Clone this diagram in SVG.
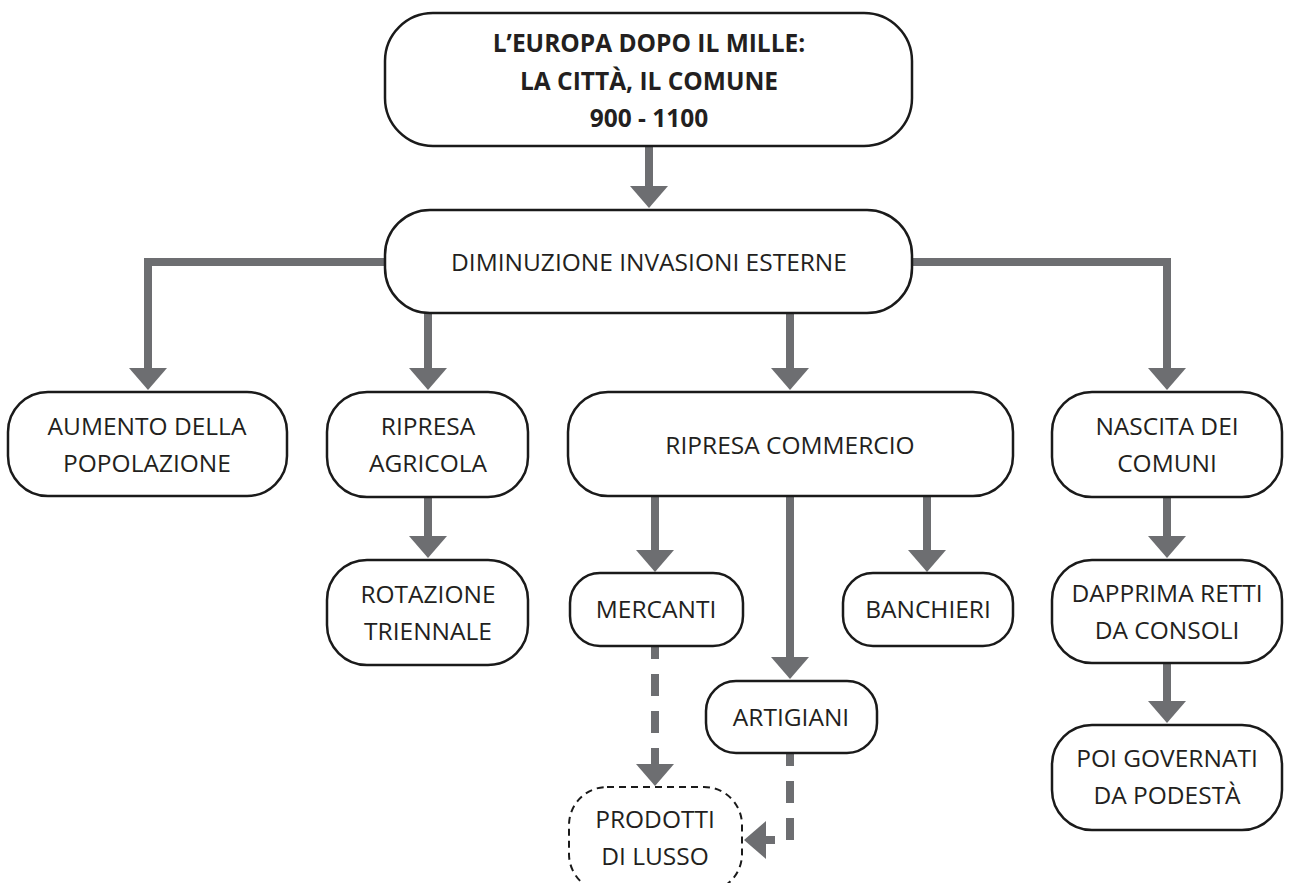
<svg xmlns="http://www.w3.org/2000/svg" width="1294" height="883" viewBox="0 0 1294 883">
<style>
.box{fill:#fff;stroke:#1a1a1a;stroke-width:2.5}
.dbox{fill:#fff;stroke:#1a1a1a;stroke-width:2;stroke-dasharray:7 5}
.t{font-family:"Open Sans","Noto Sans",sans-serif;font-size:24.5px;fill:#231f20;text-anchor:middle}
.b{font-weight:bold}
.c{fill:none;stroke:#6d6e71;stroke-width:8}
.d{stroke-dasharray:22 15;stroke-dashoffset:9}
</style>
<defs>
<marker id="ah" markerUnits="userSpaceOnUse" markerWidth="24" markerHeight="40" refX="0" refY="19" orient="auto" overflow="visible">
<path d="M0,0 L22,19 L0,38 Z" fill="#6d6e71"/>
</marker>
</defs>
<g id="connectors">
<path class="c" d="M649,146 V186" marker-end="url(#ah)"/>
<path class="c" d="M386,262 H148 V368" marker-end="url(#ah)"/>
<path class="c" d="M428,313 V368" marker-end="url(#ah)"/>
<path class="c" d="M790,313 V368" marker-end="url(#ah)"/>
<path class="c" d="M911,262 H1167 V368" marker-end="url(#ah)"/>
<path class="c" d="M428,497 V536" marker-end="url(#ah)"/>
<path class="c" d="M655,496 V550" marker-end="url(#ah)"/>
<path class="c" d="M790,496 V657" marker-end="url(#ah)"/>
<path class="c" d="M927,496 V550" marker-end="url(#ah)"/>
<path class="c" d="M1167,497 V536" marker-end="url(#ah)"/>
<path class="c" d="M1167,663 V701" marker-end="url(#ah)"/>
<path class="c d" d="M655,646 V764" marker-end="url(#ah)"/>
<path class="c d" d="M790,753 V840 H766" marker-end="url(#ah)"/>
</g>
<g id="n-title">
<rect class="box" x="385" y="13" width="527" height="133" rx="48"/>
<text class="t b" x="649" y="52">L’EUROPA DOPO IL MILLE:</text>
<text class="t b" x="649" y="90">LA CITTÀ, IL COMUNE</text>
<text class="t b" x="649" y="127">900 - 1100</text>
</g>
<g id="n-diminuzione">
<rect class="box" x="385" y="210" width="527" height="103" rx="45"/>
<text class="t" x="649" y="271">DIMINUZIONE INVASIONI ESTERNE</text>
</g>
<g id="n-aumento">
<rect class="box" x="8" y="392" width="279" height="104" rx="40"/>
<text class="t" x="147" y="435">AUMENTO DELLA</text>
<text class="t" x="147" y="472">POPOLAZIONE</text>
</g>
<g id="n-agricola">
<rect class="box" x="327" y="392" width="201" height="105" rx="40"/>
<text class="t" x="428" y="435">RIPRESA</text>
<text class="t" x="428" y="472">AGRICOLA</text>
</g>
<g id="n-rotazione">
<rect class="box" x="327" y="560" width="201" height="105" rx="40"/>
<text class="t" x="428" y="603">ROTAZIONE</text>
<text class="t" x="428" y="640">TRIENNALE</text>
</g>
<g id="n-commercio">
<rect class="box" x="568" y="392" width="445" height="104" rx="40"/>
<text class="t" x="790" y="454">RIPRESA COMMERCIO</text>
</g>
<g id="n-mercanti">
<rect class="box" x="570" y="573" width="173" height="73" rx="30"/>
<text class="t" x="656" y="618">MERCANTI</text>
</g>
<g id="n-banchieri">
<rect class="box" x="843" y="573" width="170" height="73" rx="30"/>
<text class="t" x="928" y="618">BANCHIERI</text>
</g>
<g id="n-artigiani">
<rect class="box" x="706" y="681" width="171" height="72" rx="30"/>
<text class="t" x="791" y="726">ARTIGIANI</text>
</g>
<g id="n-prodotti">
<rect class="dbox" x="569" y="787" width="173" height="105" rx="38"/>
<text class="t" x="655" y="828">PRODOTTI</text>
<text class="t" x="655" y="865">DI LUSSO</text>
</g>
<g id="n-nascita">
<rect class="box" x="1052" y="392" width="230" height="105" rx="40"/>
<text class="t" x="1167" y="435">NASCITA DEI</text>
<text class="t" x="1167" y="472">COMUNI</text>
</g>
<g id="n-dapprima">
<rect class="box" x="1052" y="560" width="230" height="103" rx="40"/>
<text class="t" x="1167" y="602">DAPPRIMA RETTI</text>
<text class="t" x="1167" y="639">DA CONSOLI</text>
</g>
<g id="n-poi">
<rect class="box" x="1052" y="725" width="230" height="105" rx="40"/>
<text class="t" x="1167" y="767">POI GOVERNATI</text>
<text class="t" x="1167" y="804">DA PODESTÀ</text>
</g>
</svg>
